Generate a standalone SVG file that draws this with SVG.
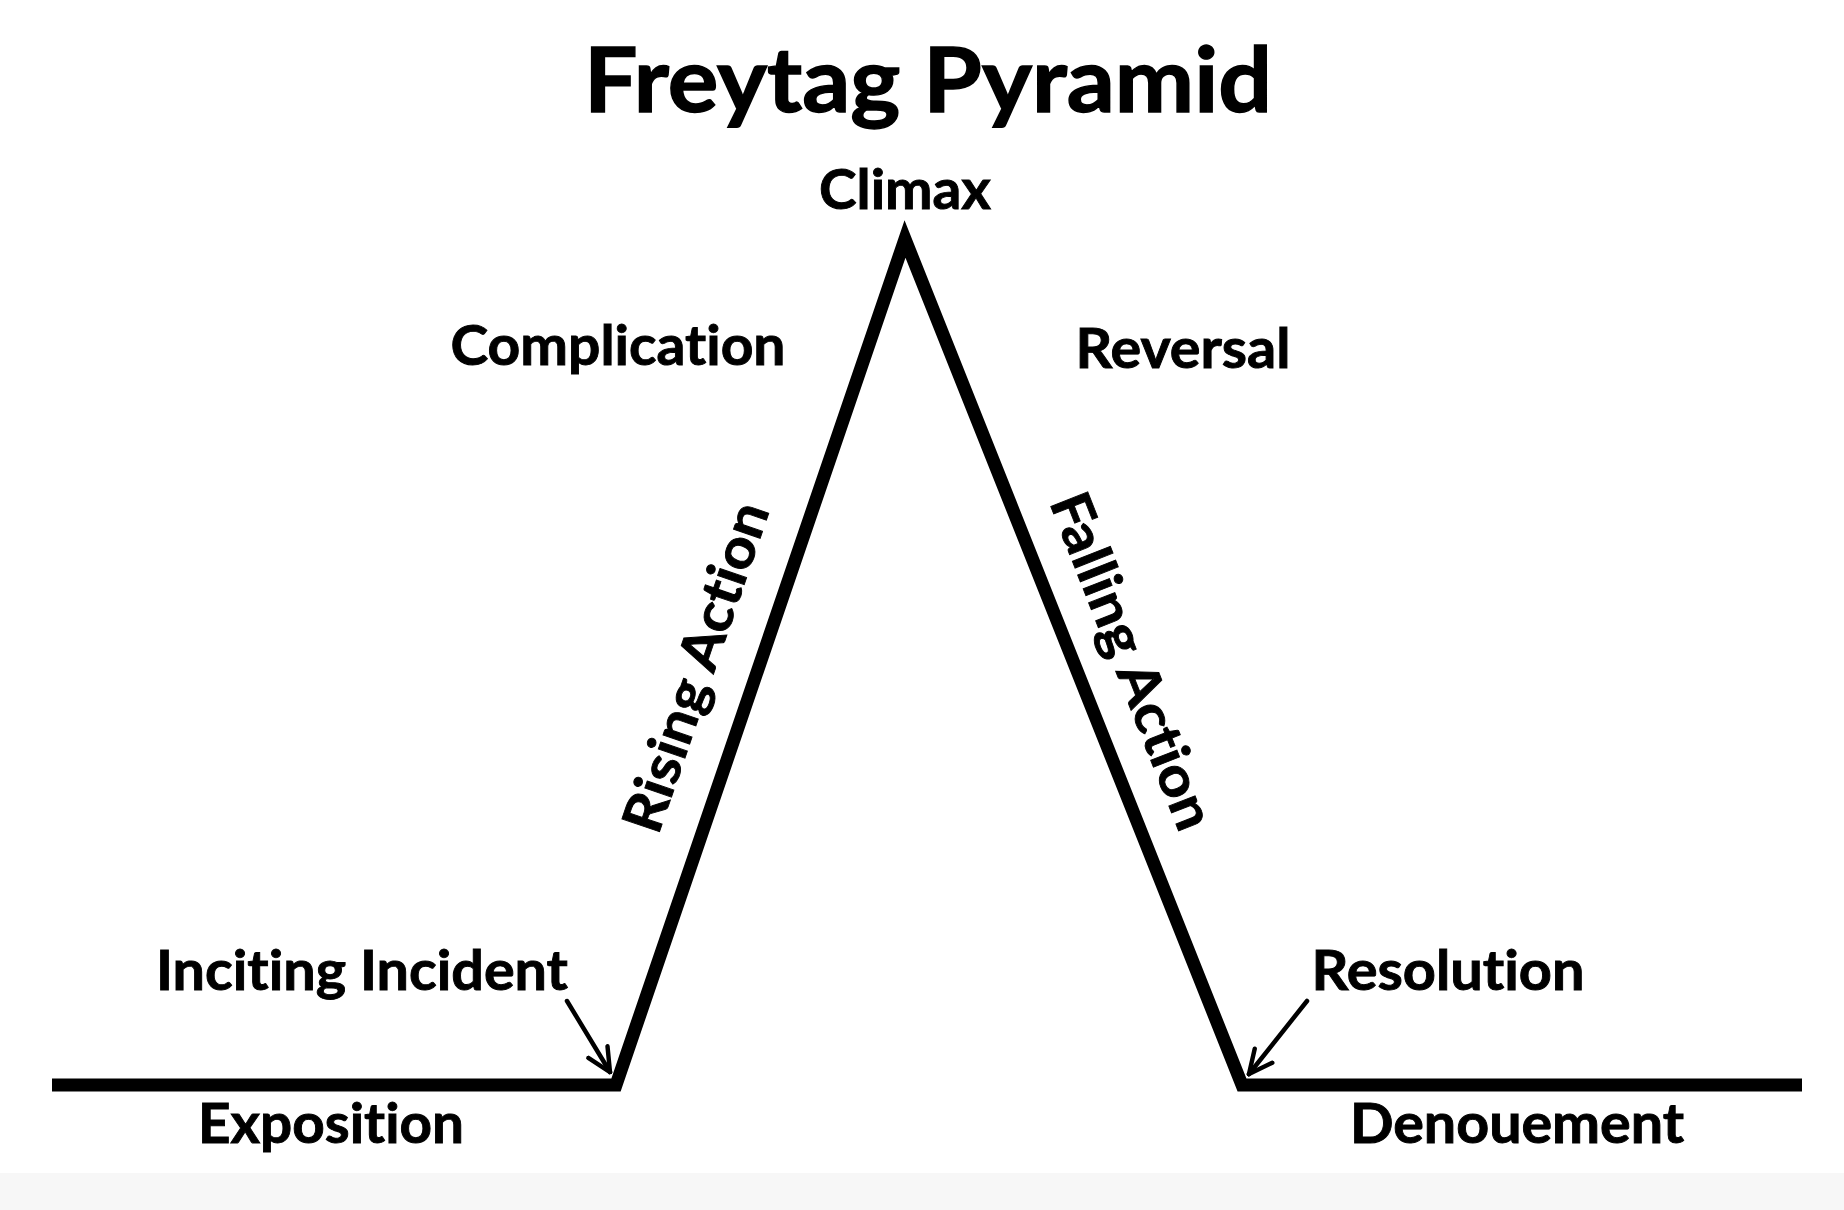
<svg xmlns="http://www.w3.org/2000/svg" width="1844" height="1210" viewBox="0 0 1844 1210">
<defs>
<style>
.t{font-family:Lato,"Open Sans","Liberation Sans",sans-serif;font-weight:bold;fill:#000;stroke:#000;stroke-width:0.9;text-anchor:middle;font-variant-ligatures:none;font-feature-settings:"liga" 0}
.lbl{font-size:55px}
.title{font-size:89px;stroke-width:1.4}
.main{fill:none;stroke:#000;stroke-width:13;stroke-linejoin:miter;stroke-miterlimit:10}
.arr{fill:none;stroke:#000;stroke-width:4.5;stroke-linecap:round}
</style>
<marker id="ah" viewBox="0 0 12 12" refX="11" refY="6" markerWidth="28" markerHeight="28" markerUnits="userSpaceOnUse" orient="auto">
<path d="M1,1.2 L11,6 L1,10.8" fill="none" stroke="#000" stroke-width="1.9" stroke-linecap="round" stroke-linejoin="miter"/>
</marker>
</defs>
<rect width="1844" height="1210" fill="#fff"/>
<rect y="1173" width="1844" height="37" fill="#f7f7f7"/>
<g id="connectors">
<polyline class="main" points="52,1085 616,1085 905,239 1242,1085 1802,1085"/>
<line class="arr" x1="567" y1="1001" x2="610" y2="1072" marker-end="url(#ah)"/>
<line class="arr" x1="1307" y1="1001" x2="1249" y2="1074" marker-end="url(#ah)"/>
</g>
<g id="title"><text class="t title" x="928" y="112" textLength="688" lengthAdjust="spacingAndGlyphs">Freytag Pyramid</text></g>
<g id="climax"><text class="t lbl" x="905" y="209" textLength="172" lengthAdjust="spacingAndGlyphs">Climax</text></g>
<g id="complication"><text class="t lbl" x="618" y="365" textLength="335" lengthAdjust="spacingAndGlyphs">Complication</text></g>
<g id="reversal"><text class="t lbl" x="1183" y="368" textLength="215" lengthAdjust="spacingAndGlyphs">Reversal</text></g>
<g id="rising-action"><text class="t lbl" transform="translate(696,667) rotate(-71.1)" x="0" y="19" textLength="345" lengthAdjust="spacingAndGlyphs">Rising Action</text></g>
<g id="falling-action"><text class="t lbl" transform="translate(1132,661) rotate(68.5)" x="0" y="19" textLength="357" lengthAdjust="spacingAndGlyphs">Falling Action</text></g>
<g id="inciting-incident"><text class="t lbl" x="362" y="990" textLength="412" lengthAdjust="spacingAndGlyphs">Inciting Incident</text></g>
<g id="resolution"><text class="t lbl" x="1448" y="990" textLength="273" lengthAdjust="spacingAndGlyphs">Resolution</text></g>
<g id="exposition"><text class="t lbl" x="331" y="1143" textLength="266" lengthAdjust="spacingAndGlyphs">Exposition</text></g>
<g id="denouement"><text class="t lbl" x="1517" y="1143" textLength="334" lengthAdjust="spacingAndGlyphs">Denouement</text></g>
</svg>
